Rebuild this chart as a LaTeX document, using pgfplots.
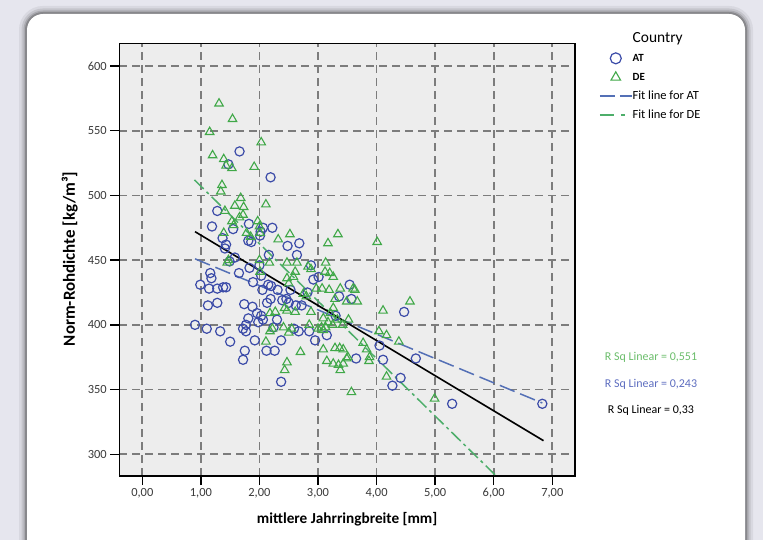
\documentclass[border=0pt]{standalone}
\usepackage{fontspec}
\setmainfont{Carlito}
\usepackage{pgfplots}
\pgfplotsset{compat=1.18}
\definecolor{bgout}{HTML}{E6E6EE}
\definecolor{shade}{HTML}{8E90C8}
\definecolor{plotbg}{HTML}{EDEDED}
\definecolor{gridc}{HTML}{7C7C7C}
\definecolor{ticklab}{HTML}{3A3A3A}
\definecolor{atblue}{HTML}{3B4BA8}
\definecolor{degreen}{HTML}{40A848}
\definecolor{fitblue}{HTML}{5470B6}
\definecolor{fitgreen}{HTML}{4DAE6A}
\definecolor{rsqgreen}{HTML}{6CBE6C}
\definecolor{rsqblue}{HTML}{5E6EC0}

\pgfplotsset{
  markleg/.style={legend image code/.code={\draw[mark repeat=2,mark phase=2,##1,mark size=5.5bp]
    plot coordinates {(0bp,0bp) (16bp,0bp) (32bp,0bp)};}},
  atleg/.style={legend image code/.code={\draw[fitblue,line width=1.7bp,
    dash pattern=on 15bp off 5bp] (0bp,0bp) -- (32bp,0bp);}},
  deleg/.style={legend image code/.code={\draw[fitgreen,line width=1.7bp,
    dash pattern=on 14bp off 7bp on 4bp off 7bp] (0bp,0bp) -- (32bp,0bp);}},
}

\pgfplotstableread{
x y
0.90 400
0.99 431
1.10 397
1.12 415
1.14 428
1.16 440
1.18 436
1.19 476
1.28 417
1.28 428
1.28 488
1.33 395
1.38 429
1.43 429
1.43 462
1.41 459
1.37 467
1.47 524
1.49 449
1.50 387
1.55 474
1.58 452
1.65 440
1.66 534
1.72 397
1.72 373
1.75 380
1.74 416
1.77 395
1.77 400
1.81 405
1.81 465
1.82 478
1.83 444
1.86 464
1.88 414
1.89 433
1.92 388
1.96 409
1.98 402
2.00 446
2.01 469
2.02 472
2.03 407
2.03 438
2.05 427
2.06 404
2.06 475
2.12 380
2.13 417
2.15 431
2.16 454
2.19 514
2.19 420
2.20 430
2.22 475
2.24 398
2.26 380
2.30 404
2.31 427
2.37 356
2.37 388
2.39 419
2.46 420
2.48 461
2.50 417
2.53 427
2.59 397
2.62 415
2.64 454
2.67 395
2.68 463
2.72 415
2.82 425
2.85 395
2.88 446
2.92 435
2.95 388
3.01 437
3.15 392
3.30 407
3.36 422
3.54 431
3.57 420
3.65 374
4.05 384
4.11 373
4.27 353
4.41 359
4.47 410
4.67 374
5.29 339
6.83 339
}\dataAT

\pgfplotstableread{
x y
1.31 571
1.54 559
1.15 549
2.03 541
1.20 531
1.39 528
1.43 523
1.53 521
1.91 522
1.36 508
1.34 503
1.68 498
2.11 493
1.41 488
1.58 492
1.73 491
1.72 485
1.66 483
1.53 480
1.56 477
1.97 480
2.00 476
2.01 471
1.78 471
1.85 468
1.39 471
2.32 466
2.52 470
3.34 470
4.01 464
3.17 463
1.47 450
1.45 448
2.00 450
2.17 448
2.01 441
2.47 448
2.64 448
2.61 441
2.83 445
2.88 443
3.13 448
3.12 441
3.20 440
3.26 437
2.47 436
2.50 432
2.58 437
2.97 428
3.07 428
3.19 427
3.38 428
3.60 428
3.63 427
3.49 418
3.67 418
3.29 420
2.75 424
2.80 422
2.43 413
2.47 411
2.61 410
2.88 410
2.18 409
2.27 410
3.26 413
3.21 409
4.11 411
4.57 418
3.09 405
3.17 402
3.25 400
3.06 398
3.13 398
3.00 397
3.09 396
3.33 404
3.42 400
3.52 404
2.18 395
2.22 397
2.41 398
2.50 394
2.55 397
2.85 400
4.04 395
4.17 392
3.77 386
3.83 381
3.88 375
3.87 372
4.38 387
2.11 387
2.70 379
3.09 381
3.29 382
3.37 382
3.43 381
3.51 375
3.15 372
3.26 370
3.35 369
3.43 370
3.38 365
3.49 374
2.47 371
2.43 365
4.17 360
3.57 348
4.99 343
}\dataDE

\begin{document}
\begin{tikzpicture}
\useasboundingbox (0,0) rectangle (763bp,540bp);
\fill[bgout] (0,0) rectangle (763bp,540bp);
\foreach \w/\o in {16/0.06,11/0.09,7/0.13,4/0.2} {
  \draw[shade, line width=\w bp, opacity=\o, rounded corners=16bp]
    (27bp,-30bp) rectangle (745bp,526bp);
}
\fill[white, rounded corners=16bp] (27bp,-30bp) rectangle (745bp,526bp);

\begin{axis}[
  at={(119.3bp,64bp)}, anchor=south west,
  scale only axis, width=455.7bp, height=432.5bp,
  xmin=-0.393, xmax=7.388, ymin=283.2, ymax=617.4,
  axis background/.style={fill=plotbg},
  axis line style={black, line width=1.5bp},
  xtick={0,1,...,7}, ytick={300,350,...,600},
  tick pos=left, tick align=outside, major tick length=9bp,
  tick style={black, line width=1.4bp},
  grid=major,
  major grid style={gridc, line width=1.8bp, dash pattern=on 8bp off 5bp},
  tick label style={font=\fontsize{12.5}{14}\selectfont, text=ticklab},
  x tick label style={/pgf/number format/.cd, fixed, fixed zerofill,
    precision=2, use comma, assume math mode=true},
  y tick label style={/pgf/number format/.cd, assume math mode=true},
  xlabel={mittlere Jahrringbreite [mm]},
  ylabel={Norm-Rohdichte [kg/m³]},
  x label style={font=\bfseries\fontsize{15.3}{17}\selectfont,
    at={(axis description cs:0.5,-0.0993)}, anchor=center},
  y label style={font=\bfseries\fontsize{17}{19}\selectfont,
    at={(axis description cs:-0.109,0.502)}, anchor=center},
  legend style={at={(axis description cs:1.0525,1.0316)}, anchor=north west,
    draw=none, fill=none, inner sep=0pt, outer sep=0pt, row sep=0pt,
    font=\fontsize{12.5}{14}\selectfont,
    nodes={inner sep=0pt, text height=13bp, text depth=6bp},
    /tikz/every even column/.append style={column sep=0.5bp}},
  legend cell align=left,
]
\addlegendimage{empty legend}
\addlegendentry{\fontsize{15.5}{16}\selectfont Country}

\addplot[only marks, mark=o, mark size=4.6bp, atblue,
  mark options={line width=1.2bp}, markleg]
  table {\dataAT};
\addlegendentry{\fontsize{11}{12}\selectfont\bfseries AT}

\addplot[only marks, mark=triangle, mark size=4.9bp, degreen,
  mark options={line width=1.1bp}, markleg]
  table {\dataDE};
\addlegendentry{\fontsize{11}{12}\selectfont\bfseries DE}

\addplot[fitblue, line width=1.5bp, dash pattern=on 16bp off 6bp, atleg]
  coordinates {(0.90,451) (6.83,339.6)};
\addlegendentry{Fit line for AT}

\addplot[fitgreen, line width=1.5bp,
  dash pattern=on 13bp off 4bp on 3bp off 4bp, deleg]
  coordinates {(0.89,512) (6.85,247.4)};
\addlegendentry{Fit line for DE}

\addplot[black, line width=1.6bp, forget plot]
  coordinates {(0.90,472) (6.85,310.5)};
\end{axis}

\node[font=\fontsize{12}{14}\selectfont, text=rsqgreen] at (651bp,183bp) {R Sq Linear = 0,551};
\node[font=\fontsize{12}{14}\selectfont, text=rsqblue] at (651bp,156bp) {R Sq Linear = 0,243};
\node[font=\fontsize{12}{14}\selectfont, text=black] at (651bp,130bp) {R Sq Linear = 0,33};
\end{tikzpicture}
\end{document}
